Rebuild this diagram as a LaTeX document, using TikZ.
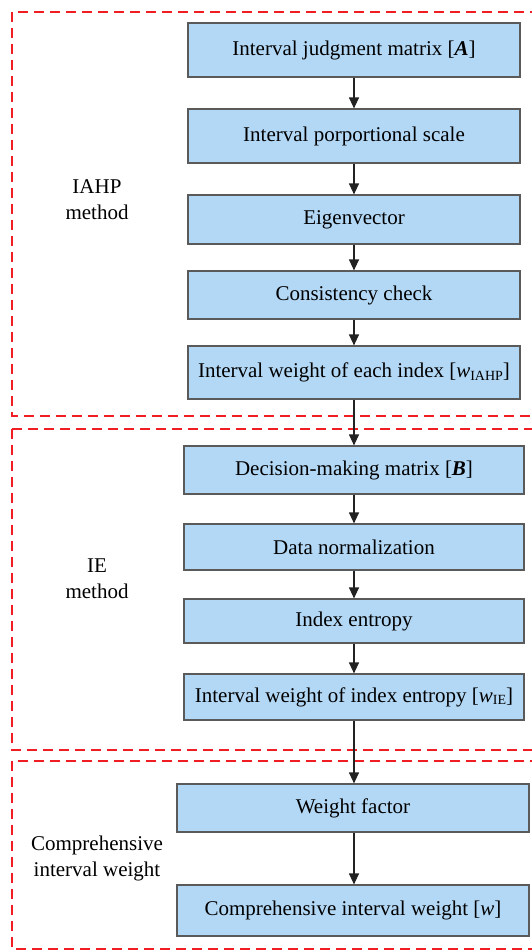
\documentclass[tikz,border=0pt]{standalone}
\usepackage{fontspec}
\setmainfont{Liberation Serif}
\usetikzlibrary{arrows.meta}
\definecolor{boxfill}{HTML}{B3D8F6}
\definecolor{boxline}{HTML}{5A5A5A}
\definecolor{dashred}{HTML}{F01E23}
\definecolor{arrowcol}{HTML}{222222}
\newcommand{\subtxt}[1]{\raisebox{-0.28ex}{\fontsize{14}{14}\selectfont #1}}
\begin{document}
\begin{tikzpicture}[x=1pt,y=-1pt,
  stepbox/.style={draw=boxline, fill=boxfill, line width=1.2pt, inner sep=0pt,
     font=\fontsize{21}{26}\selectfont, align=center},
  wA/.style={stepbox, minimum width=332pt},
  wB/.style={stepbox, minimum width=340pt},
  wC/.style={stepbox, minimum width=352pt},
  grp/.style={draw=dashred, line width=1.2pt, dash pattern=on 10pt off 6pt},
  lbl/.style={font=\fontsize{21}{26}\selectfont, align=center, inner sep=0pt},
  flow/.style={draw=arrowcol, line width=1.2pt, -{Triangle[length=11pt,width=10pt]}}]
\useasboundingbox (0,0) rectangle (532,950);
\clip (0,0) rectangle (532,950);
% group frames
\draw[grp] (12,12) rectangle (560,416);
\draw[grp] (12,429) rectangle (560,750);
\draw[grp] (12,761) rectangle (560,949);
% labels
\node[lbl] (l1) at (97,200) {IAHP\\method};
\node[lbl] (l2) at (97,579) {IE\\method};
\node[lbl] (l3) at (97,858) {Comprehensive\\interval weight};
% boxes
\node[wA, minimum height=54pt] (b1) at (354,50) {Interval judgment matrix [\textit{\textbf{A}}]};
\node[wA, minimum height=54pt] (b2) at (354,136) {Interval porportional scale};
\node[wA, minimum height=49pt] (b3) at (354,219.5) {Eigenvector};
\node[wA, minimum height=48pt] (b4) at (354,295) {Consistency check};
\node[wA, minimum height=53pt] (b5) at (354,372.5) {Interval weight of each index [\textit{w}\subtxt{IAHP}]};
\node[wB, minimum height=48pt] (b6) at (354,470) {Decision-making matrix [\textit{\textbf{B}}]};
\node[wB, minimum height=46pt] (b7) at (354,547) {Data normalization};
\node[wB, minimum height=44pt] (b8) at (354,621) {Index entropy};
\node[wB, minimum height=46pt] (b9) at (354,697) {Interval weight of index entropy [\textit{w}\subtxt{IE}]};
\node[wC, minimum height=48pt] (b10) at (353,808) {Weight factor};
\node[wC, minimum height=51pt] (b11) at (353,910.5) {Comprehensive interval weight [\textit{w}]};
% arrows
\draw[flow] (b1) -- (b2);
\draw[flow] (b2) -- (b3);
\draw[flow] (b3) -- (b4);
\draw[flow] (b4) -- (b5);
\draw[flow] (b5) -- (b6);
\draw[flow] (b6) -- (b7);
\draw[flow] (b7) -- (b8);
\draw[flow] (b8) -- (b9);
\draw[flow] (b9.south) -- (b9.south |- b10.north);
\draw[flow] (b10.south -| b9.south) -- (b9.south |- b11.north);
\end{tikzpicture}
\end{document}
